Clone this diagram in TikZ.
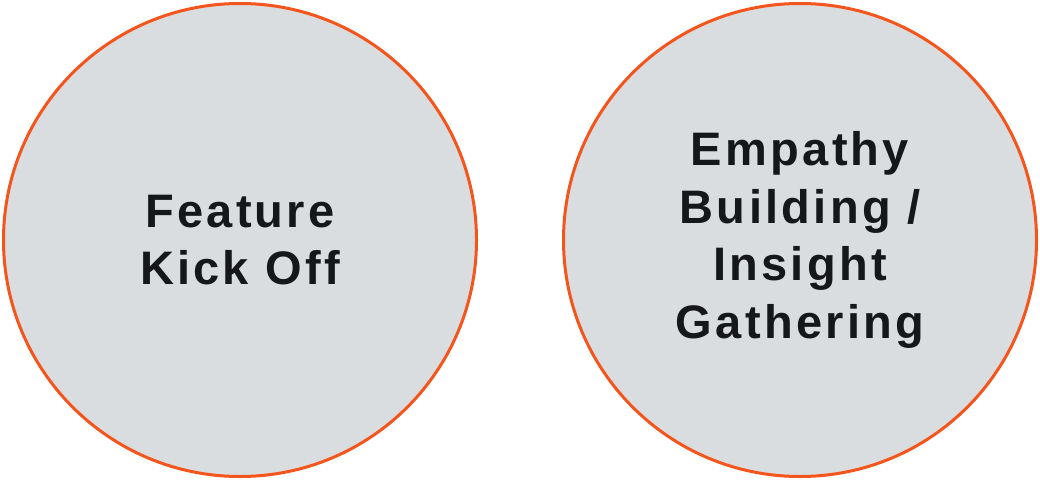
\documentclass[tikz,border=0pt]{standalone}
\usepackage{fontspec}
\setmainfont{Liberation Sans}[LetterSpace=7]
\definecolor{ringc}{HTML}{F4551C}
\definecolor{fillc}{HTML}{DADDE0}
\definecolor{txtc}{HTML}{15171A}
\begin{document}
\begin{tikzpicture}[x=1pt,y=1pt,
  bubble/.style={circle, draw=ringc, fill=fillc, line width=3pt, minimum size=473pt, inner sep=0pt},
  lbl/.style={text=txtc, align=center, font=\fontsize{47}{57.5}\selectfont\bfseries}]
\useasboundingbox (0,0) rectangle (1040,480);
\node[bubble] (a) at (240,240) {};
\node[bubble] (b) at (800,240) {};
\node[lbl] (ta) at (240,240) {Feature\\Kick Off};
\node[lbl] (tb) at (800,240) {Empathy\\Building /\\Insight\\Gathering};
\end{tikzpicture}
\end{document}
